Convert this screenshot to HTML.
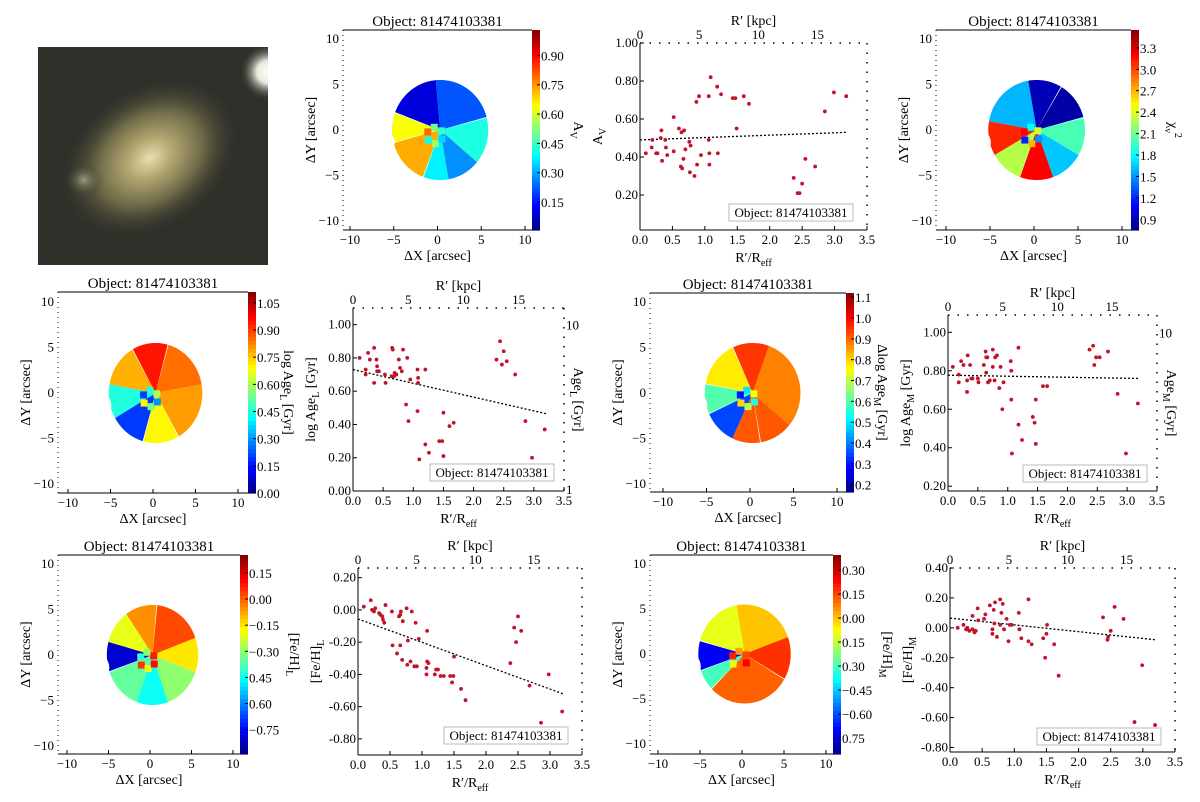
<!DOCTYPE html>
<html><head><meta charset="utf-8"><style>
body{margin:0;background:#fff}
svg{display:block;font-family:"Liberation Serif",serif}
</style></head><body>
<svg id="fig" width="1200" height="802" viewBox="0 0 1200 802" xmlns="http://www.w3.org/2000/svg">
<defs>
<radialGradient id="gal" cx="0.5" cy="0.5" r="0.5"><stop offset="0" stop-color="#e9dfb0"/><stop offset="0.25" stop-color="#b5a872"/><stop offset="0.6" stop-color="#6e6a48"/><stop offset="1" stop-color="#3a3a30" stop-opacity="0"/></radialGradient>
<radialGradient id="star" cx="0.5" cy="0.5" r="0.5"><stop offset="0" stop-color="#fff"/><stop offset="0.4" stop-color="#e8e8d8"/><stop offset="1" stop-color="#444" stop-opacity="0"/></radialGradient>
<radialGradient id="blob" cx="0.5" cy="0.5" r="0.5"><stop offset="0" stop-color="#9c9a7c"/><stop offset="1" stop-color="#3a3a30" stop-opacity="0"/></radialGradient>
<clipPath id="imgclip"><rect x="38" y="47" width="230" height="218"/></clipPath>
</defs>
<g clip-path="url(#imgclip)">
<rect x="38" y="47" width="230" height="218" fill="#2f302a"/>
<ellipse cx="150" cy="158" rx="95" ry="70" transform="rotate(-35 150 158)" fill="url(#gal)"/>
<ellipse cx="84" cy="180" rx="20" ry="18" fill="url(#blob)"/>
<circle cx="268" cy="72" r="28" fill="url(#star)"/>
</g>
</svg>
<script>
// ---------- scatter data ----------
const avR=[0.09,0.19,0.18,0.25,0.27,0.33,0.32,0.34,0.39,0.40,0.42,0.52,0.52,0.60,0.64,0.68,0.63,0.65,0.67,0.70,0.76,0.78,0.77,0.84,0.87,0.88,0.91,0.94,1.06,1.06,1.07,1.07,1.09,1.19,1.20,1.25,1.43,1.47,1.49,1.60,1.68,2.37,2.43,2.46,2.50,2.55,2.70,2.85,2.99,3.18];
const avVal=[0.42,0.49,0.45,0.42,0.42,0.54,0.50,0.38,0.49,0.45,0.41,0.61,0.43,0.55,0.53,0.54,0.35,0.34,0.39,0.44,0.48,0.46,0.32,0.30,0.69,0.36,0.72,0.41,0.72,0.49,0.42,0.36,0.82,0.77,0.42,0.73,0.71,0.71,0.55,0.72,0.68,0.29,0.21,0.21,0.26,0.39,0.35,0.64,0.74,0.72];
const avFit=[0.49,0.53];
const ageLR=[0.11,0.21,0.21,0.25,0.28,0.35,0.35,0.39,0.40,0.40,0.43,0.53,0.54,0.64,0.65,0.66,0.68,0.69,0.72,0.76,0.78,0.81,0.83,0.88,0.90,0.92,0.95,1.07,1.07,1.08,1.08,1.10,1.20,1.20,1.26,1.43,1.48,1.50,1.50,1.60,1.67,2.38,2.44,2.47,2.50,2.55,2.69,2.86,2.97,3.18];
const ageLVal=[0.80,0.73,0.70,0.83,0.79,0.86,0.65,0.79,0.75,0.72,0.72,0.70,0.65,0.69,0.86,0.85,0.69,0.71,0.70,0.79,0.74,0.72,0.85,0.52,0.80,0.42,0.67,0.48,0.73,0.68,0.65,0.19,0.73,0.28,0.23,0.30,0.30,0.47,0.21,0.39,0.41,0.79,0.90,0.76,0.84,0.78,0.70,0.42,0.20,0.37];
const ageLFit=[0.73,0.465];
const ageMR=[0.08,0.18,0.18,0.22,0.26,0.32,0.32,0.33,0.37,0.39,0.41,0.50,0.51,0.60,0.63,0.64,0.64,0.66,0.67,0.70,0.75,0.75,0.78,0.79,0.82,0.86,0.88,0.91,0.93,1.05,1.06,1.06,1.07,1.18,1.18,1.24,1.42,1.45,1.47,1.47,1.59,1.66,2.37,2.43,2.45,2.48,2.54,2.68,2.84,2.98,3.18];
const ageMVal=[0.82,0.78,0.74,0.85,0.83,0.69,0.75,0.88,0.83,0.76,0.76,0.76,0.74,0.83,0.90,0.79,0.87,0.87,0.74,0.75,0.91,0.82,0.75,0.87,0.88,0.71,0.82,0.60,0.74,0.85,0.65,0.80,0.37,0.92,0.52,0.44,0.56,0.53,0.42,0.65,0.72,0.72,0.91,0.93,0.83,0.87,0.87,0.90,0.68,0.37,0.63];
const ageMFit=[0.777,0.76];
const fehLR=[0.09,0.20,0.22,0.25,0.27,0.33,0.35,0.38,0.39,0.41,0.43,0.53,0.54,0.61,0.64,0.66,0.67,0.66,0.69,0.70,0.76,0.77,0.78,0.82,0.84,0.88,0.90,0.92,0.95,1.07,1.07,1.08,1.08,1.10,1.20,1.22,1.25,1.29,1.34,1.44,1.47,1.49,1.50,1.61,1.68,2.38,2.44,2.47,2.50,2.55,2.68,2.86,2.98,3.19];
const fehLVal=[0.02,0.06,0.0,-0.01,0.01,-0.02,-0.03,-0.04,-0.06,-0.08,0.03,-0.01,-0.22,-0.27,-0.04,-0.03,-0.01,-0.22,-0.31,-0.07,0.01,-0.34,-0.19,-0.32,-0.01,-0.35,-0.08,-0.35,-0.18,-0.36,-0.40,-0.13,-0.32,-0.33,-0.40,-0.37,-0.37,-0.41,-0.41,-0.41,-0.45,-0.41,-0.29,-0.49,-0.56,-0.33,-0.11,-0.20,-0.04,-0.13,-0.47,-0.70,-0.40,-0.63];
const fehLFit=[-0.056,-0.52];
const fehMR=[0.12,0.21,0.25,0.27,0.30,0.35,0.35,0.38,0.40,0.43,0.44,0.53,0.55,0.62,0.66,0.66,0.68,0.70,0.69,0.73,0.78,0.78,0.80,0.82,0.84,0.88,0.91,0.93,0.96,1.07,1.08,1.11,1.22,1.22,1.27,1.45,1.48,1.50,1.51,1.62,1.69,2.38,2.45,2.46,2.50,2.56,2.70,2.87,2.99,3.19];
const fehMVal=[0.0,0.02,-0.01,0.0,-0.02,0.08,-0.01,-0.03,-0.02,0.13,0.05,0.06,0.09,0.15,-0.01,-0.04,0.12,0.17,0.03,-0.06,0.02,0.19,0.10,0.16,-0.01,0.06,-0.09,0.02,0.02,0.10,-0.01,-0.07,0.19,-0.09,-0.11,-0.07,-0.20,-0.04,0.02,-0.11,-0.32,0.07,-0.08,-0.06,-0.02,0.14,0.06,-0.63,-0.25,-0.65];
const fehMFit=[0.065,-0.08];
const xTicks=[0,0.5,1,1.5,2,2.5,3,3.5];
const xTickLabels=["0.0","0.5","1.0","1.5","2.0","2.5","3.0","3.5"];
const kpcTicks=[0,5,10,15];
const avTicks=[0.2,0.4,0.6,0.8,1.0];
const ageLTicks=[0,0.2,0.4,0.6,0.8,1.0];
const ageMTicks=[0.2,0.4,0.6,0.8,1.0];
const fehLTicks=[-0.8,-0.6,-0.4,-0.2,0,0.2];
const fehMTicks=[-0.8,-0.6,-0.4,-0.2,0,0.2,0.4];
// ---------- map data: [startDeg,endDeg,value] ----------
const mapAvSectors=[[95,160,0.10],[15,95,0.22],[-40,15,0.42],[-80,-40,0.28],[-110,-80,0.38],[-165,-110,0.73],[160,195,0.64]];
const mapAvCore=[0.45,0.5,0.8,0.4,0.55,0.35];
const mapChiSectors=[[100,150,1.6],[60,100,0.9],[15,60,0.85],[-30,15,2.0],[-70,-30,1.65],[-110,-70,3.2],[-150,-110,2.3],[170,210,3.1],[150,170,1.6]];
const mapChiCore=[2.4,1.8,3.2,1.2,2.7,1.5];
const mapAgeLSectors=[[75,120,0.95],[10,75,0.85],[-60,10,0.8],[-105,-60,0.7],[-150,-105,0.2],[170,210,0.45],[120,170,0.78]];
const mapAgeLCore=[0.6,0.45,0.2,0.7,0.55,0.3];
const mapAgeMSectors=[[70,115,0.95],[-40,70,0.88],[-80,-40,0.92],[-115,-80,0.92],[-155,-115,0.35],[170,205,0.6],[115,170,0.78]];
const mapAgeMCore=[0.75,0.5,0.3,0.8,0.7,0.55];
const mapFehLSectors=[[20,85,0.03],[85,125,-0.05],[125,165,-0.2],[165,200,-0.8],[200,250,-0.35],[250,290,-0.45],[290,340,-0.3],[340,380,-0.15]];
const mapFehLCore=[0.08,-0.3,-0.4,0.05,-0.2,0.1];
const mapFehMSectors=[[100,165,-0.1],[20,100,0.0],[-30,20,0.18],[-135,-30,0.12],[-160,-135,-0.3],[165,200,-0.7]];
const mapFehMCore=[0.15,0.05,0.2,-0.1,0.12,0.25];

const svg=document.getElementById('fig');
const NS='http://www.w3.org/2000/svg';
function el(tag,attrs,parent,text){const e=document.createElementNS(NS,tag);for(const k in attrs)e.setAttribute(k,attrs[k]);if(text!==undefined)e.textContent=text;(parent||svg).appendChild(e);return e;}
function jet(t){t=Math.max(0,Math.min(1,t));const c=v=>Math.round(255*Math.max(0,Math.min(1,v)));
return `rgb(${c(1.5-Math.abs(4*t-3))},${c(1.5-Math.abs(4*t-2))},${c(1.5-Math.abs(4*t-1))})`;}

function scatter(c,R,V,fit,name){
  const g=el('g',{},svg);
  
  
  const sx=v=>c.l+(v/3.5)*(c.r-c.l);
  const sy=v=>c.b-(v-c.ymin)/(c.ymax-c.ymin)*(c.b-c.t);
  el('line',{x1:c.l,y1:c.b,x2:c.r,y2:c.b,stroke:'#000','stroke-width':1},g);
  el('line',{x1:c.l,y1:c.t,x2:c.l,y2:c.b,stroke:'#000','stroke-width':1},g);
  el('line',{x1:c.l,y1:c.t,x2:c.r,y2:c.t,stroke:'#000','stroke-width':1.5,'stroke-dasharray':'1.5,8'},g);
  el('line',{x1:c.r,y1:c.t,x2:c.r,y2:c.b,stroke:'#000','stroke-width':1.5,'stroke-dasharray':'1.5,8'},g);
  xTicks.forEach((t,i)=>{el('line',{x1:sx(t),y1:c.b,x2:sx(t),y2:c.b-4,stroke:'#000'},g);
    const tl=el('text',{x:sx(t),y:c.b+14,'font-size':13,'text-anchor':'middle'},g,xTickLabels[i]);
    });
  kpcTicks.forEach(k=>{const tl=el('text',{x:sx(k/c.kpc),y:c.t-4,'font-size':13,'text-anchor':'middle'},g,String(k));
    });
  const tt=el('text',{x:(c.l+c.r)/2,y:c.t-18,'font-size':14,'text-anchor':'middle'},g,"R′ [kpc]");
  
  c.yTicks.forEach(t=>{el('line',{x1:c.l,y1:sy(t),x2:c.l+4,y2:sy(t),stroke:'#000'},g);
    const tl=el('text',{x:c.l-2,y:sy(t)+4,'font-size':13,'text-anchor':'end'},g,t.toFixed(2));
    });
  const xt=el('text',{x:(c.l+c.r)/2,y:c.b+32,'font-size':14,'text-anchor':'middle'},g);
  
  xt.innerHTML='R′/R<tspan font-size="10" dy="4">eff</tspan>';
  const yt=el('text',{transform:`translate(${c.l-38},${(c.t+c.b)/2}) rotate(-90)`,'font-size':14,'text-anchor':'middle'},g);
  
  yt.innerHTML=c.ylab;
  if(c.right){const rt=el('text',{transform:`translate(${c.r+10},${(c.t+c.b)/2}) rotate(90)`,'font-size':14,'text-anchor':'middle'},g);
    rt.innerHTML=c.right;
    el('text',{x:c.r+2,y:sy(1)+5,'font-size':13},g,'10');
    if(c.ymin<=0.001)el('text',{x:c.r+2,y:sy(0)+3,'font-size':13},g,'1');}
  const fl=el('line',{x1:sx(0),y1:sy(fit[0]),x2:sx(3.2),y2:sy(fit[1]),stroke:'#000','stroke-width':1.3,'stroke-dasharray':'2,2'},g);
  
  R.forEach((r,i)=>{const p=el('circle',{cx:sx(r),cy:sy(V[i]),r:1.9,fill:'#c0142a'},g);
    });
  const lb=el('rect',{x:c.lab[0],y:c.lab[1],width:124,height:17,fill:'#fff',stroke:'#aaa','stroke-width':0.8},g);
  
  const lt=el('text',{x:c.lab[0]+62,y:c.lab[1]+13,'font-size':13,'text-anchor':'middle'},g,'Object: 81474103381');
  
}

function sectorPath(cx,cy,rx,ry,a0,a1){const r=Math.PI/180;let d=`M${cx},${cy}`;
  for(let a=a0;a<=a1+0.01;a+=2){d+=`L${cx+rx*Math.cos(a*r)},${cy-ry*Math.sin(a*r)}`;}return d+'Z';}

function map(c,sectors,core,name){
  const g=el('g',{},svg);
  
  
  const X=v=>c.x0+v*c.sx, Y=v=>c.y0-v*c.sy;
  const norm=v=>(v-c.vmin)/(c.vmax-c.vmin);
  const cx=X(0.3),cy=Y(0),rx=5.5*c.sx,ry=5.5*c.sy;
  sectors.forEach(s=>{const p=el('path',{d:sectorPath(cx,cy,rx,ry,s[0],s[1]),fill:jet(norm(s[2]))},g);
    });
  el('ellipse',{cx:X(-7.3),cy:Y(-1.4),rx:2.4*c.sx,ry:1.9*c.sy,fill:'#fff'},g);
  core.forEach((v,i)=>{const a=i*Math.PI/3+0.6;const q=el('rect',{x:X(-0.3+0.9*Math.cos(a))-3.5,y:Y(-0.6+0.9*Math.sin(a))-3.5,width:7,height:7,fill:jet(norm(v))},g);
    });
  el('line',{x1:c.l,y1:c.b,x2:c.r,y2:c.b,stroke:'#000'},g);
  el('line',{x1:c.l,y1:c.t,x2:c.r,y2:c.t,stroke:'#000'},g);
  el('line',{x1:c.l,y1:c.t,x2:c.l,y2:c.b,stroke:'#000','stroke-dasharray':'1,4'},g);
  [-10,-5,0,5,10].forEach(t=>{el('line',{x1:X(t),y1:c.b,x2:X(t),y2:c.b-4,stroke:'#000'},g);
    el('text',{x:X(t),y:c.b+14,'font-size':13,'text-anchor':'middle'},g,t<0?'−'+(-t):String(t));
    el('text',{x:c.l-4,y:Y(t)+4,'font-size':13,'text-anchor':'end'},g,t<0?'−'+(-t):String(t));});
  const xt=el('text',{x:(c.l+c.r)/2,y:c.b+30,'font-size':14,'text-anchor':'middle'},g,'ΔX [arcsec]');
  
  const yt=el('text',{transform:`translate(${c.l-28},${(c.t+c.b)/2}) rotate(-90)`,'font-size':14,'text-anchor':'middle'},g,'ΔY [arcsec]');
  
  const ti=el('text',{x:(c.l+c.r)/2,y:c.t-4,'font-size':15,'text-anchor':'middle'},g,'Object: 81474103381');
  
  const cbg=el('g',{},g);
  
  const n=50,h=(c.b-c.t)/n;
  for(let i=0;i<n;i++)el('rect',{x:c.r,y:c.b-(i+1)*h,width:c.cw,height:h+0.6,fill:jet((i+0.5)/n)},cbg);
  c.cbTicks.forEach((v,i)=>{const y=c.b-norm(v)*(c.b-c.t);
    el('line',{x1:c.r+c.cw-3,y1:y,x2:c.r+c.cw,y2:y,stroke:'#000'},cbg);
    el('text',{x:c.r+c.cw+1,y:y+5,'font-size':13},cbg,c.cbLabels[i]);});
  const cl=el('text',{transform:`translate(${c.r+c.cw+c.cbOff},${(c.t+c.b)/2}) rotate(90)`,'font-size':14,'text-anchor':'middle'},cbg);
  
  cl.innerHTML=c.cbLab;
}

map({l:343,r:532,t:30,b:230,x0:437.5,sx:8.75,y0:130,sy:9.1,cw:8,cbOff:34,vmin:0.007,vmax:1.03,
  cbTicks:[0.15,0.30,0.45,0.60,0.75,0.90],cbLabels:['0.15','0.30','0.45','0.60','0.75','0.90'],cbLab:'A<tspan font-size="10" dy="4">V</tspan>'},mapAvSectors,mapAvCore,'map-av');
map({l:936,r:1131,t:30,b:230,x0:1034,sx:8.8,y0:130,sy:9.1,cw:8,cbOff:30,vmin:0.75,vmax:3.55,
  cbTicks:[0.9,1.2,1.5,1.8,2.1,2.4,2.7,3.0,3.3],cbLabels:['0.9','1.2','1.5','1.8','2.1','2.4','2.7','3.0','3.3'],cbLab:'χ<tspan font-size="10" dy="4">ν</tspan><tspan font-size="10" dy="-10">2</tspan>'},mapChiSectors,mapChiCore,'map-chi2');
map({l:58,r:248,t:292,b:493,x0:153,sx:8.5,y0:393,sy:9.1,cw:8,cbOff:28,vmin:0,vmax:1.11,
  cbTicks:[0,0.15,0.3,0.45,0.6,0.75,0.9,1.05],cbLabels:['0.00','0.15','0.30','0.45','0.60','0.75','0.90','1.05'],cbLab:'log Age<tspan font-size="10" dy="4">L</tspan><tspan dy="-4"> [Gyr]</tspan>'},mapAgeLSectors,mapAgeLCore,'map-log-age-l');
map({l:650,r:846,t:293,b:492,x0:750,sx:8.7,y0:393,sy:9.1,cw:8,cbOff:24,vmin:0.165,vmax:1.12,
  cbTicks:[0.2,0.3,0.4,0.5,0.6,0.7,0.8,0.9,1.0,1.1],cbLabels:['0.2','0.3','0.4','0.5','0.6','0.7','0.8','0.9','1.0','1.1'],cbLab:'Δlog Age<tspan font-size="10" dy="4">M</tspan><tspan dy="-4"> [Gyr]</tspan>'},mapAgeMSectors,mapAgeMCore,'map-log-age-m');
map({l:58,r:240,t:555,b:754,x0:150,sx:8.3,y0:655,sy:9.1,cw:8,cbOff:42,vmin:-0.89,vmax:0.253,
  cbTicks:[0.15,0,-0.15,-0.3,-0.45,-0.6,-0.75],cbLabels:['0.15','0.00','−0.15','−0.30','0.45','0.60','−0.75'],cbLab:'[Fe/H]<tspan font-size="10" dy="4">L</tspan>'},mapFehLSectors,mapFehLCore,'map-feh-l');
map({l:650,r:833,t:555,b:754,x0:742,sx:8.4,y0:654,sy:9.0,cw:8,cbOff:42,vmin:-0.85,vmax:0.394,
  cbTicks:[0.3,0.15,0,-0.15,-0.3,-0.45,-0.6,-0.75],cbLabels:['0.30','0.15','0.00','0.15','0.30','−0.45','−0.60','0.75'],cbLab:'[Fe/H]<tspan font-size="10" dy="4">M</tspan>'},mapFehMSectors,mapFehMCore,'map-feh-m');

scatter({l:640,r:867,t:43,b:230,ymin:0.016,ymax:1.0,kpc:5.48,yTicks:avTicks,ylab:'A<tspan font-size="10" dy="4">V</tspan>',lab:[729,204]},avR,avVal,avFit,'scatter-av');
scatter({l:353,r:564,t:308,b:491,ymin:0,ymax:1.10,kpc:5.46,yTicks:ageLTicks,ylab:'log Age<tspan font-size="10" dy="4">L</tspan><tspan dy="-4"> [Gyr]</tspan>',right:'Age<tspan font-size="10" dy="4">L</tspan><tspan dy="-4"> [Gyr]</tspan>',lab:[430,464]},ageLR,ageLVal,ageLFit,'scatter-log-age-l');
scatter({l:948,r:1157,t:315,b:491,ymin:0.175,ymax:1.09,kpc:5.46,yTicks:ageMTicks,ylab:'log Age<tspan font-size="10" dy="4">M</tspan><tspan dy="-4"> [Gyr]</tspan>',right:'Age<tspan font-size="10" dy="4">M</tspan><tspan dy="-4"> [Gyr]</tspan>',lab:[1023,465]},ageMR,ageMVal,ageMFit,'scatter-log-age-m');
scatter({l:358,r:582,t:568,b:755,ymin:-0.90,ymax:0.26,kpc:5.46,yTicks:fehLTicks,ylab:'[Fe/H]<tspan font-size="10" dy="4">L</tspan>',lab:[444,727]},fehLR,fehLVal,fehLFit,'scatter-feh-l');
scatter({l:950,r:1175,t:568,b:752,ymin:-0.83,ymax:0.40,kpc:5.46,yTicks:fehMTicks,ylab:'[Fe/H]<tspan font-size="10" dy="4">M</tspan>',lab:[1037,728]},fehMR,fehMVal,fehMFit,'scatter-feh-m');
</script>
</body></html>
